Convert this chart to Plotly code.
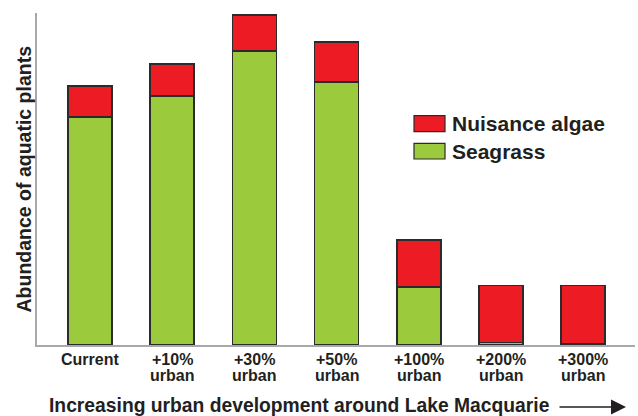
import plotly.graph_objects as go

categories = ["Current", "+10%<br>urban", "+30%<br>urban", "+50%<br>urban",
              "+100%<br>urban", "+200%<br>urban", "+300%<br>urban"]
seagrass = [228, 249, 294, 263, 58, 2.7, 1.5]
algae = [31, 32, 36, 40, 47, 57, 58]
legend_labels = ["Nuisance algae", "Seagrass"]
x_title = "Increasing urban development around Lake Macquarie"
y_title = "Abundance of aquatic plants"

RED = "#ed1c24"
GREEN = "#9bca3c"
EDGE = "#2b2b2b"
TEXT = "#231f20"
FONT = "Liberation Sans"
W, H = 638, 416
L, R, T, B = 37, 3, 13, 71

def px_x(px):
    return (px - L) / (W - L - R)

def px_y(py):
    return (H - B - py) / (H - B - T)

fig = go.Figure()
fig.add_trace(go.Bar(x=categories, y=seagrass, name=legend_labels[1], width=0.535,
                     marker=dict(color=GREEN, line=dict(color=EDGE, width=1.5))))
fig.add_trace(go.Bar(x=categories, y=algae, name=legend_labels[0], width=0.535,
                     marker=dict(color=RED, line=dict(color=EDGE, width=1.5))))

fig.update_layout(
    width=W, height=H, barmode="stack", showlegend=False,
    margin=dict(l=L, r=R, t=T, b=B),
    paper_bgcolor="white", plot_bgcolor="white",
    font=dict(family=FONT, color=TEXT),
    xaxis=dict(range=[-0.645, 6.63], showline=True, linecolor="#a7a9ac", linewidth=2,
               ticks="", showgrid=False, zeroline=False, showticklabels=False),
    yaxis=dict(range=[0, 332], showline=True, linecolor="#a7a9ac", linewidth=2,
               showticklabels=False, ticks="", showgrid=False, zeroline=False),
)

# Category labels (tight two-line layout), placed on the category axis
for cat in categories:
    lines = cat.split("<br>")
    for i, line in enumerate(lines):
        fig.add_annotation(x=cat, xref="x", yref="paper", y=px_y(359 + 16 * i),
                           text=line, showarrow=False, xanchor="center", yanchor="middle",
                           font=dict(family=FONT, size=16, weight="bold", color=TEXT))

# Legend drawn manually
legend_items = [(legend_labels[0], RED, 115.7, 131.7), (legend_labels[1], GREEN, 143.3, 159)]
for label, col, y0, y1 in legend_items:
    fig.add_shape(type="rect", xref="paper", yref="paper",
                  x0=px_x(414), x1=px_x(445), y0=px_y(y1), y1=px_y(y0),
                  fillcolor=col, line=dict(color=EDGE, width=1.2))
    fig.add_annotation(xref="paper", yref="paper", x=px_x(450), y=px_y((y0 + y1) / 2),
                       text=label, showarrow=False, xanchor="left", yanchor="middle",
                       font=dict(family=FONT, size=21, weight="bold", color=TEXT))

# Axis titles
fig.add_annotation(xref="paper", yref="paper", x=px_x(299), y=px_y(405),
                   text=x_title, showarrow=False, xanchor="center", yanchor="middle",
                   font=dict(family=FONT, size=19.3, weight="bold", color=TEXT))
fig.add_annotation(xref="paper", yref="paper", x=px_x(626), y=px_y(407),
                   ax=-68, ay=0, axref="pixel", ayref="pixel", text="", showarrow=True,
                   arrowhead=2, arrowsize=2, arrowwidth=1.5, arrowcolor=TEXT)
fig.add_annotation(xref="paper", yref="paper", x=px_x(23), y=px_y(179.5),
                   text=y_title, showarrow=False, textangle=-90,
                   xanchor="center", yanchor="middle",
                   font=dict(family=FONT, size=19.5, weight="bold", color=TEXT))

fig.write_html("out.html", config={"displayModeBar": False},
               post_script="document.body.style.margin='0';")
